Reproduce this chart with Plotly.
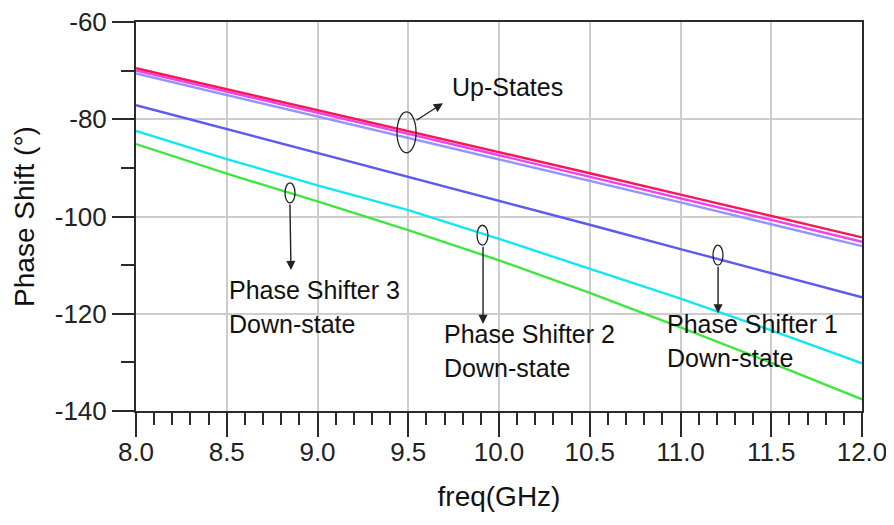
import plotly.graph_objects as go

# ---- data ----
freq = [8.0, 8.5, 9.0, 9.5, 10.0, 10.5, 11.0, 11.5, 12.0]
up_red = [-69.5, -73.8, -78.1, -82.4, -86.8, -91.1, -95.5, -99.9, -104.3]
up_magenta = [-70.0, -74.3, -78.6, -83.0, -87.4, -91.8, -96.2, -100.7, -105.2]
up_lavender = [-70.6, -75.0, -79.4, -83.8, -88.2, -92.6, -97.1, -101.6, -106.1]
ps1_down = [-77.1, -82.0, -86.9, -91.8, -96.8, -101.7, -106.7, -111.6, -116.6]
ps2_down = [-82.4, -88.2, -93.6, -98.7, -104.6, -110.7, -116.9, -123.4, -130.2]
ps3_down = [-85.1, -91.2, -96.9, -102.8, -109.0, -115.7, -122.8, -130.1, -137.6]

x_ticks = [8.0, 8.5, 9.0, 9.5, 10.0, 10.5, 11.0, 11.5, 12.0]
x_tick_text = ["8.0", "8.5", "9.0", "9.5", "10.0", "10.5", "11.0", "11.5", "12.0"]
y_ticks = [-140, -120, -100, -80, -60]
y_tick_text = ["-140", "-120", "-100", "-80", "-60"]

FONT = "Liberation Sans, Arial, sans-serif"

fig = go.Figure()
series = [
    (ps3_down, "#3fe63f"),
    (ps2_down, "#12e6f5"),
    (ps1_down, "#5b5bf0"),
    (up_lavender, "#9494ff"),
    (up_magenta, "#f040f0"),
    (up_red, "#ff1552"),
]
for vals, col in series:
    fig.add_trace(go.Scatter(x=freq, y=vals, mode="lines",
                             line=dict(color=col, width=2.4),
                             showlegend=False, hoverinfo="skip"))

# ---- annotations: ellipses ----
ellipses = [
    (9.438, 9.543, -78.5, -86.9),
    (8.821, 8.876, -93.1, -97.2),
    (9.879, 9.939, -101.8, -105.9),
    (11.179, 11.234, -105.9, -110.0),
]
for x0, x1, y0, y1 in ellipses:
    fig.add_shape(type="circle", xref="x", yref="y", x0=x0, x1=x1, y0=y0, y1=y1,
                  line=dict(color="#222222", width=1.3), fillcolor="rgba(0,0,0,0)")

# arrows: (tail_x, tail_y, head_x, head_y)
arrows = [
    (9.537, -80.4, 9.691, -76.7),
    (8.848, -97.2, 8.854, -111.0),
    (9.912, -105.9, 9.912, -122.1),
    (11.207, -110.0, 11.207, -119.9),
]
for tx, ty, hx, hy in arrows:
    fig.add_annotation(x=hx, y=hy, ax=tx, ay=ty, xref="x", yref="y",
                       axref="x", ayref="y", text="", showarrow=True,
                       arrowhead=2, arrowsize=1.3, arrowwidth=1.4,
                       arrowcolor="#222222")

labels = [
    ("Up-States", 9.730, -73.4),
    ("Phase Shifter 3", 8.501, -115.1),
    ("Down-state", 8.501, -122.1),
    ("Phase Shifter 2", 9.686, -124.2),
    ("Down-state", 9.686, -131.2),
    ("Phase Shifter 1", 10.915, -122.1),
    ("Down-state", 10.915, -129.1),
]
for txt, lx, ly in labels:
    fig.add_annotation(x=lx, y=ly, xref="x", yref="y", text=txt, showarrow=False,
                       xanchor="left", yanchor="middle",
                       font=dict(family=FONT, size=25, color="#111111"))

axis_common = dict(
    showline=True, linecolor="#2a2a2a", linewidth=2, mirror=True,
    ticks="outside", tickwidth=2, tickcolor="#2a2a2a",
    showgrid=True, gridcolor="#cdcdcd", gridwidth=2,
    zeroline=False, ticklabeloverflow="allow",
    tickfont=dict(family=FONT, size=26, color="#222222"),
)

fig.update_xaxes(
    range=[8.0, 12.0], tickvals=x_ticks, ticktext=x_tick_text, ticklen=24,
    ticklabelstandoff=-7,
    minor=dict(dtick=0.1, ticks="outside", ticklen=12, tickwidth=2,
               tickcolor="#2a2a2a", showgrid=False),
    title=dict(text="freq(GHz)", font=dict(family=FONT, size=28, color="#111111"),
               standoff=20),
    **axis_common,
)
fig.update_yaxes(
    range=[-140, -60], tickvals=y_ticks, ticktext=y_tick_text, ticklen=22,
    minor=dict(dtick=10, ticks="outside", ticklen=13, tickwidth=2,
               tickcolor="#2a2a2a", showgrid=False),
    title=dict(text="Phase Shift (°)", font=dict(family=FONT, size=28, color="#111111"),
               standoff=12),
    **axis_common,
)

# page body has an 8px margin, so the figure is sized to fit inside it
fig.update_layout(
    width=878, height=509,
    margin=dict(l=128, r=24, t=14, b=106, autoexpand=False),
    paper_bgcolor="white", plot_bgcolor="white",
    showlegend=False,
)

fig.write_html("out.html")
